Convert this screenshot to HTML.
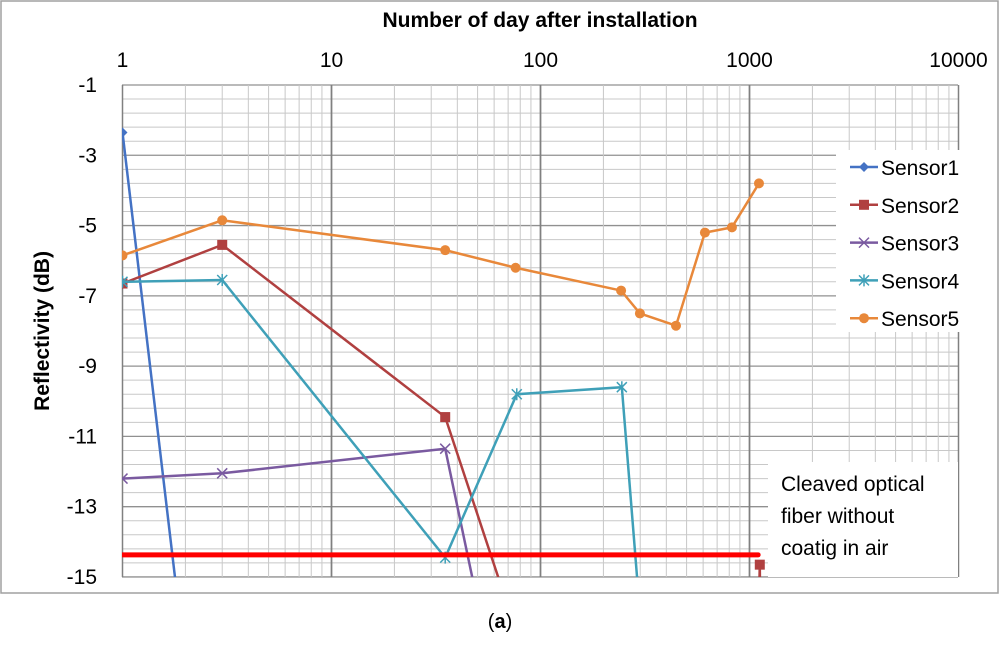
<!DOCTYPE html>
<html><head><meta charset="utf-8"><style>
body{margin:0;background:#fff;width:1000px;height:646px;overflow:hidden}
svg{display:block}
text{font-family:"Liberation Sans",sans-serif}
</style></head><body>
<svg id="chart" width="1000" height="646" xmlns="http://www.w3.org/2000/svg">
<rect x="1" y="1" width="997" height="592" fill="#fff" stroke="#a0a0a0" stroke-width="1.5"/>
<defs><clipPath id="pc"><rect x="122" y="85" width="836" height="492"/></clipPath></defs>
<g id="grid"></g>
<g id="series" clip-path="url(#pc)"></g>
<g id="axes"></g>
<text x="540" y="27" text-anchor="middle" font-size="21" font-weight="bold">Number of day after installation</text>
<text transform="translate(49,331) rotate(-90)" text-anchor="middle" font-size="21" font-weight="bold">Reflectivity (dB)</text>
<rect x="768" y="462" width="190" height="115" fill="#fff"/>
<text font-size="21"><tspan x="781" y="491">Cleaved optical</tspan><tspan x="781" y="523">fiber without</tspan><tspan x="781" y="555">coatig in air</tspan></text>
<g id="legend"></g>
<text x="500" y="628" text-anchor="middle" font-size="20" font-family="Liberation Serif,serif">(<tspan font-weight="bold">a</tspan>)</text>
</svg>
<script>
const xTicks=[1,10,100,1000,10000];
const yTicks=[-1,-3,-5,-7,-9,-11,-13,-15];
const seriesNames=["Sensor1","Sensor2","Sensor3","Sensor4","Sensor5"];
const s1x=[1,3];const s1y=[-2.35,-26.4];
const s2x=[1,3,35,80,1100,1120,1130];const s2y=[-6.65,-5.55,-10.45,-16.9,-16.9,-14.65,-17];
const s3x=[1,3,35,55];const s3y=[-12.2,-12.05,-11.35,-16.9];
const s4x=[1,3,35,77,245,330];const s4y=[-6.6,-6.55,-14.45,-9.8,-9.6,-19.2];
const s5x=[1,3,35,76,243,299,445,612,824,1110];const s5y=[-5.85,-4.85,-5.7,-6.2,-6.85,-7.5,-7.85,-5.2,-5.05,-3.8];
const refX=[1,1100];const refY=[-14.37,-14.37];
const colors=["#4472c4","#b04040","#7a5aa0","#3fa0b8","#e8883a"];
const NS="http://www.w3.org/2000/svg";
const X0=122.5,DEC=209,Y0=85,YS=35.14;
const xs=v=>X0+Math.log10(v)*DEC;
const ys=v=>Y0+(-1-v)*YS;
function mk(t,a,p){const e=document.createElementNS(NS,t);for(const k in a)e.setAttribute(k,a[k]);p.appendChild(e);return e;}
const grid=document.getElementById('grid');
for(let v=-1;v>=-15.001;v-=0.4){const y=ys(v);const major=Math.abs((v+1)/2-Math.round((v+1)/2))<1e-6;
 const l=mk('line',{x1:122,x2:958,y1:y,y2:y,stroke:major?'#909090':'#c8c8c8','stroke-width':major?1.3:1},grid);
 }
for(let d=0;d<4;d++)for(let m=1;m<=10;m++){const x=xs(Math.pow(10,d)*m);const major=(m==1||m==10);
 const l=mk('line',{x1:x,x2:x,y1:85,y2:577,stroke:major?'#808080':'#c8c8c8','stroke-width':major?1.5:1},grid);
 }
const axes=document.getElementById('axes');
xTicks.forEach(v=>{const t=mk('text',{x:xs(v),y:67,'text-anchor':'middle','font-size':21},axes);t.textContent=v;
 });
yTicks.forEach(v=>{const t=mk('text',{x:97,y:ys(v)+7,'text-anchor':'end','font-size':21},axes);t.textContent=v;
 });
const sg=document.getElementById('series');
function marker(type,x,y,c,g){
 if(type==0)mk('path',{d:`M${x} ${y-5}L${x+5} ${y}L${x} ${y+5}L${x-5} ${y}Z`,fill:c},g);
 else if(type==1)mk('rect',{x:x-5,y:y-5,width:10,height:10,fill:c},g);
 else if(type==2)mk('path',{d:`M${x-5} ${y-5}L${x+5} ${y+5}M${x-5} ${y+5}L${x+5} ${y-5}`,stroke:c,'stroke-width':1.5},g);
 else if(type==3)mk('path',{d:`M${x-5} ${y-5}L${x+5} ${y+5}M${x-5} ${y+5}L${x+5} ${y-5}M${x} ${y-6}L${x} ${y+6}`,stroke:c,'stroke-width':1.5},g);
 else mk('circle',{cx:x,cy:y,r:5,fill:c},g);}
const all=[[s1x,s1y],[s2x,s2y],[s3x,s3y],[s4x,s4y],[s5x,s5y]];
all.forEach((s,i)=>{const g=mk('g',{},sg);
 const pts=s[0].map((x,j)=>xs(x)+','+ys(s[1][j])).join(' ');
 mk('polyline',{points:pts,fill:'none',stroke:colors[i],'stroke-width':2.5},g);
 s[0].forEach((x,j)=>{const yv=s[1][j];if(yv>=-15.2)marker(i,xs(x),ys(yv),colors[i],g);});});
const rl=mk('line',{x1:xs(refX[0]),x2:xs(refX[1]),y1:ys(refY[0]),y2:ys(refY[1]),stroke:'#ff0000','stroke-width':5,'stroke-linecap':'round'},sg);

const lg=document.getElementById('legend');
mk('rect',{x:836,y:150,width:138,height:182,fill:'#fff'},lg);
seriesNames.forEach((n,i)=>{const y=167+i*37.8;const g=mk('g',{},lg);
 
 mk('line',{x1:850,x2:878,y1:y,y2:y,stroke:colors[i],'stroke-width':2.5},g);marker(i,864,y,colors[i],g);
 const t=mk('text',{x:881,y:y+8,'font-size':21},g);t.textContent=n;});
</script>
</body></html>
